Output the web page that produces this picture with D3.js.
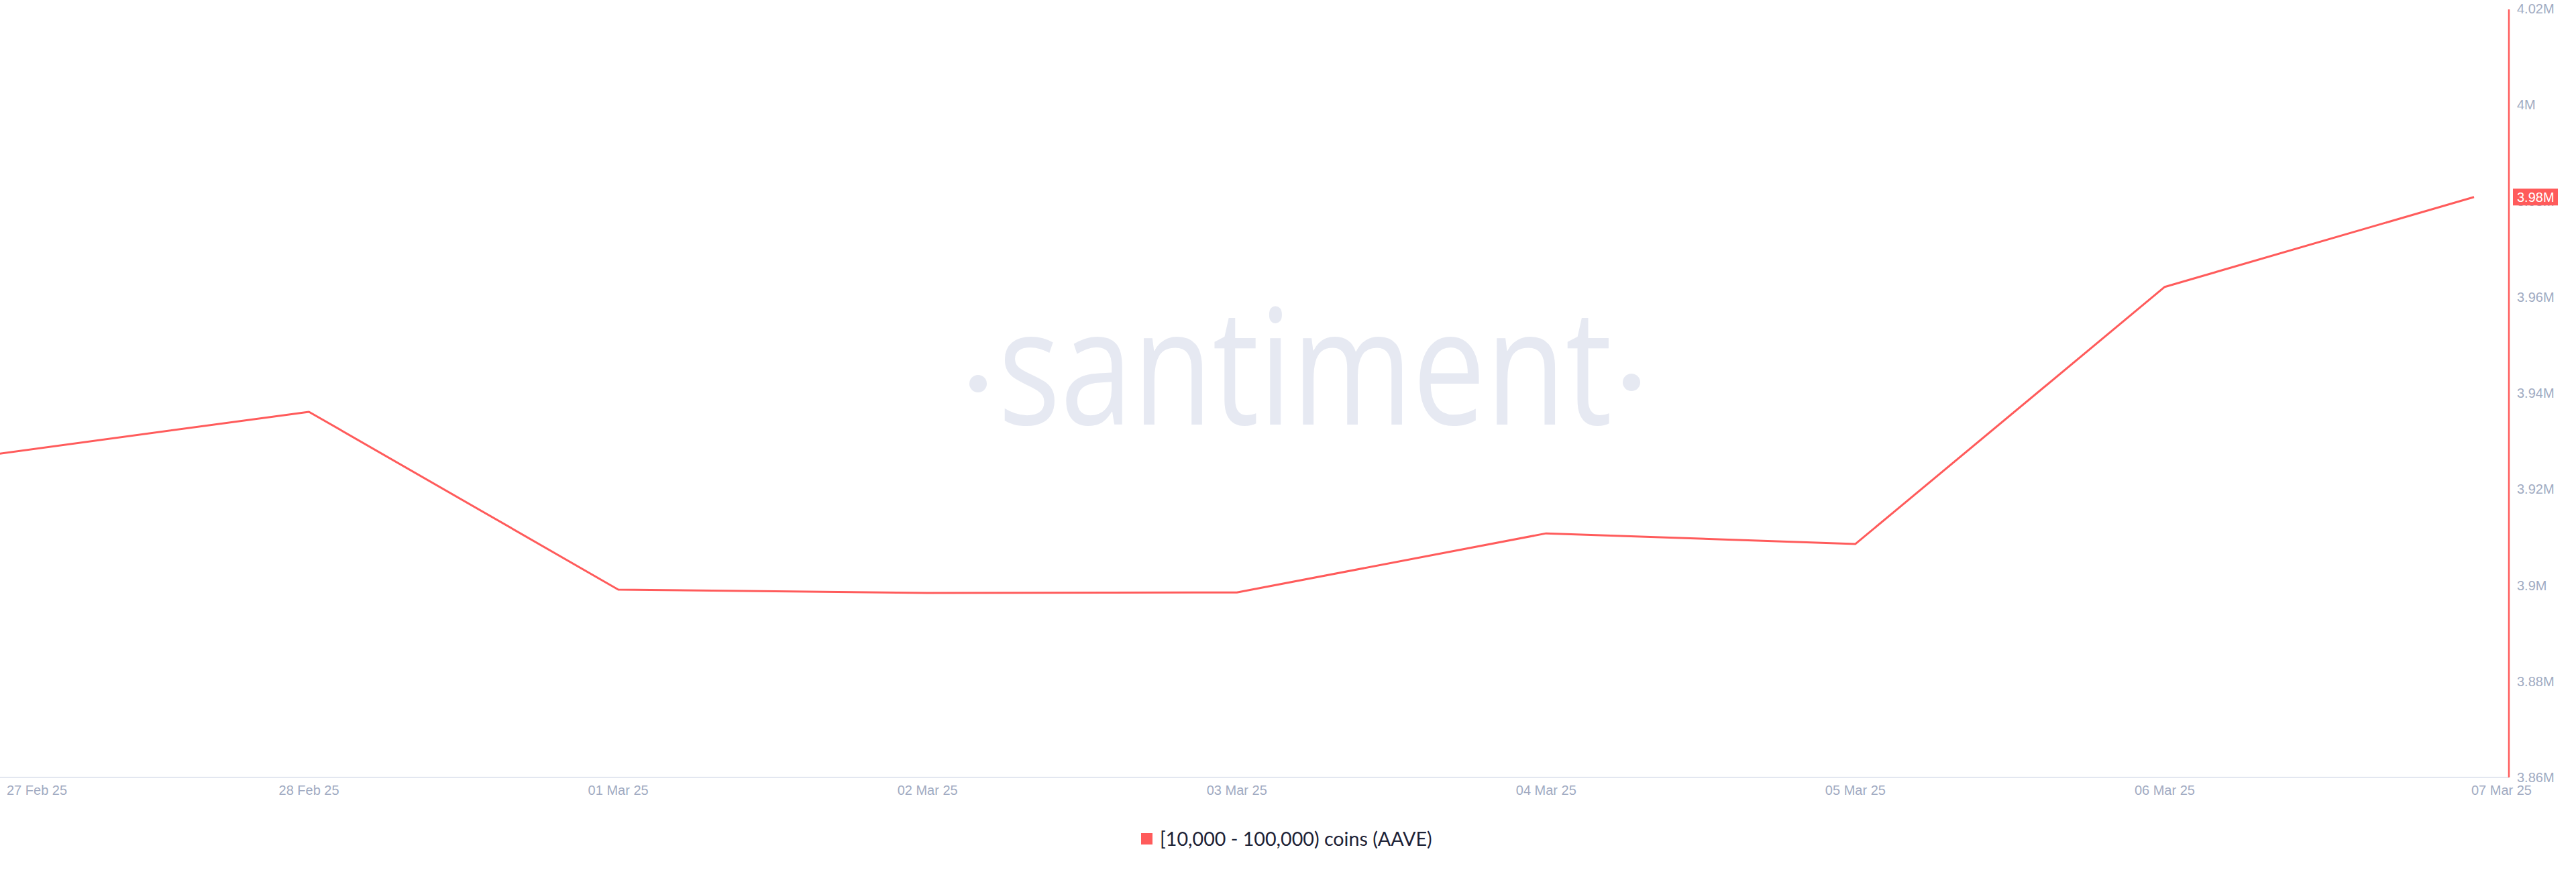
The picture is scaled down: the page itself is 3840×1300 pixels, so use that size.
<!DOCTYPE html>
<html>
<head>
<meta charset="utf-8">
<script src="https://cdn.jsdelivr.net/npm/d3@7"></script>
<style>
  html, body { margin: 0; padding: 0; background: #ffffff; }
  svg { display: block; }
</style>
</head>
<body>
<svg id="chart" width="3840" height="1300"></svg>
<script>
// ---- data ----
const dates = ["2025-02-27","2025-02-28","2025-03-01","2025-03-02","2025-03-03","2025-03-04","2025-03-05","2025-03-06","2025-03-07"];
const holdings = [3927400, 3936100, 3899100, 3898400, 3898500, 3910800, 3908600, 3962100, 3980800];
const xTickLabels = ["27 Feb 25","28 Feb 25","01 Mar 25","02 Mar 25","03 Mar 25","04 Mar 25","05 Mar 25","06 Mar 25","07 Mar 25"];
const yTicks = [3860000, 3880000, 3900000, 3920000, 3940000, 3960000, 3980000, 4000000, 4020000];
const seriesName = "[10,000 - 100,000) coins (AAVE)";
const lastLabel = "3.98M";

// ---- setup ----
const parse = d3.timeParse("%Y-%m-%d");
const data = dates.map((d, i) => ({ date: parse(d), value: holdings[i] }));
const RED = "#ff5b5b";
const AXIS_TEXT = "#a1abc2";
const FONT = "'Liberation Sans', Arial, Helvetica, sans-serif";

const svg = d3.select("#chart");

const x = d3.scaleTime()
  .domain([parse(dates[0]), parse(dates[dates.length - 1])])
  .range([-0.5, 3688]);
const y = d3.scaleLinear()
  .domain([3860000, 4020000])
  .range([1159, 13]);

const axisX = 3740;

// ---- watermark ----
const wm = svg.append("g").attr("fill", "#e6e9f2");
wm.append("text")
  .attr("x", 1488).attr("y", 633)
  .attr("font-family", "'Open Sans', 'Noto Sans', sans-serif")
  .attr("font-size", 240)
  .attr("font-weight", 500)
  .attr("textLength", 915)
  .attr("lengthAdjust", "spacingAndGlyphs")
  .text("santiment");
wm.append("circle").attr("cx", 1458).attr("cy", 572).attr("r", 13);
wm.append("circle").attr("cx", 2432).attr("cy", 570).attr("r", 13);

// ---- x axis baseline ----
svg.append("line")
  .attr("x1", 0).attr("x2", axisX)
  .attr("y1", y(3860000)).attr("y2", y(3860000))
  .attr("stroke", "#e3e7f0").attr("stroke-width", 2);

// ---- x tick labels ----
const xl = svg.append("g")
  .attr("font-family", FONT).attr("font-size", 20).attr("fill", AXIS_TEXT);
data.forEach((d, i) => {
  const t = xl.append("text")
    .attr("y", 1178).attr("dy", "0.35em")
    .text(xTickLabels[i]);
  const w = t.node().getComputedTextLength();
  let cx = x(d.date);
  if (i === 0) cx = Math.max(cx, 10 + w / 2);
  if (i === data.length - 1) cx = 3774 - w / 2;
  t.attr("x", cx).attr("text-anchor", "middle");
});

// ---- y axis (right) ----
svg.append("line")
  .attr("x1", axisX).attr("x2", axisX)
  .attr("y1", 14).attr("y2", y(3860000))
  .attr("stroke", RED).attr("stroke-width", 2.5);

const fmt = v => (+(v / 1e6).toFixed(2)) + "M";
svg.append("g")
  .attr("font-family", FONT).attr("font-size", 20).attr("fill", AXIS_TEXT)
  .selectAll("text").data(yTicks).join("text")
  .attr("x", 3752).attr("y", d => y(d)).attr("dy", "0.35em")
  .text(fmt);

// ---- line ----
svg.append("path")
  .datum(data)
  .attr("fill", "none")
  .attr("stroke", RED)
  .attr("stroke-width", 3)
  .attr("stroke-linejoin", "round")
  .attr("d", d3.line().x(d => x(d.date)).y(d => y(d.value)));

// ---- last value badge ----
const last = data[data.length - 1];
const by = y(last.value);
svg.append("rect")
  .attr("x", 3746).attr("y", by - 12.5)
  .attr("width", 67).attr("height", 25)
  .attr("fill", RED);
svg.append("text")
  .attr("x", 3752).attr("y", by).attr("dy", "0.35em")
  .attr("font-family", FONT).attr("font-size", 20).attr("fill", "#ffffff")
  .text(lastLabel);

// ---- legend ----
svg.append("rect")
  .attr("x", 1701).attr("y", 1242).attr("width", 17).attr("height", 17)
  .attr("fill", RED);
const lt = svg.append("text")
  .attr("x", 1729).attr("y", 1251).attr("dy", "0.35em")
  .attr("font-family", "Lato, 'Open Sans', sans-serif")
  .attr("font-size", 26).attr("fill", "#1d2236")
  .text(seriesName);
const lw = lt.node().getComputedTextLength();
lt.attr("font-size", 26 * 406 / lw);
</script>
</body>
</html>
